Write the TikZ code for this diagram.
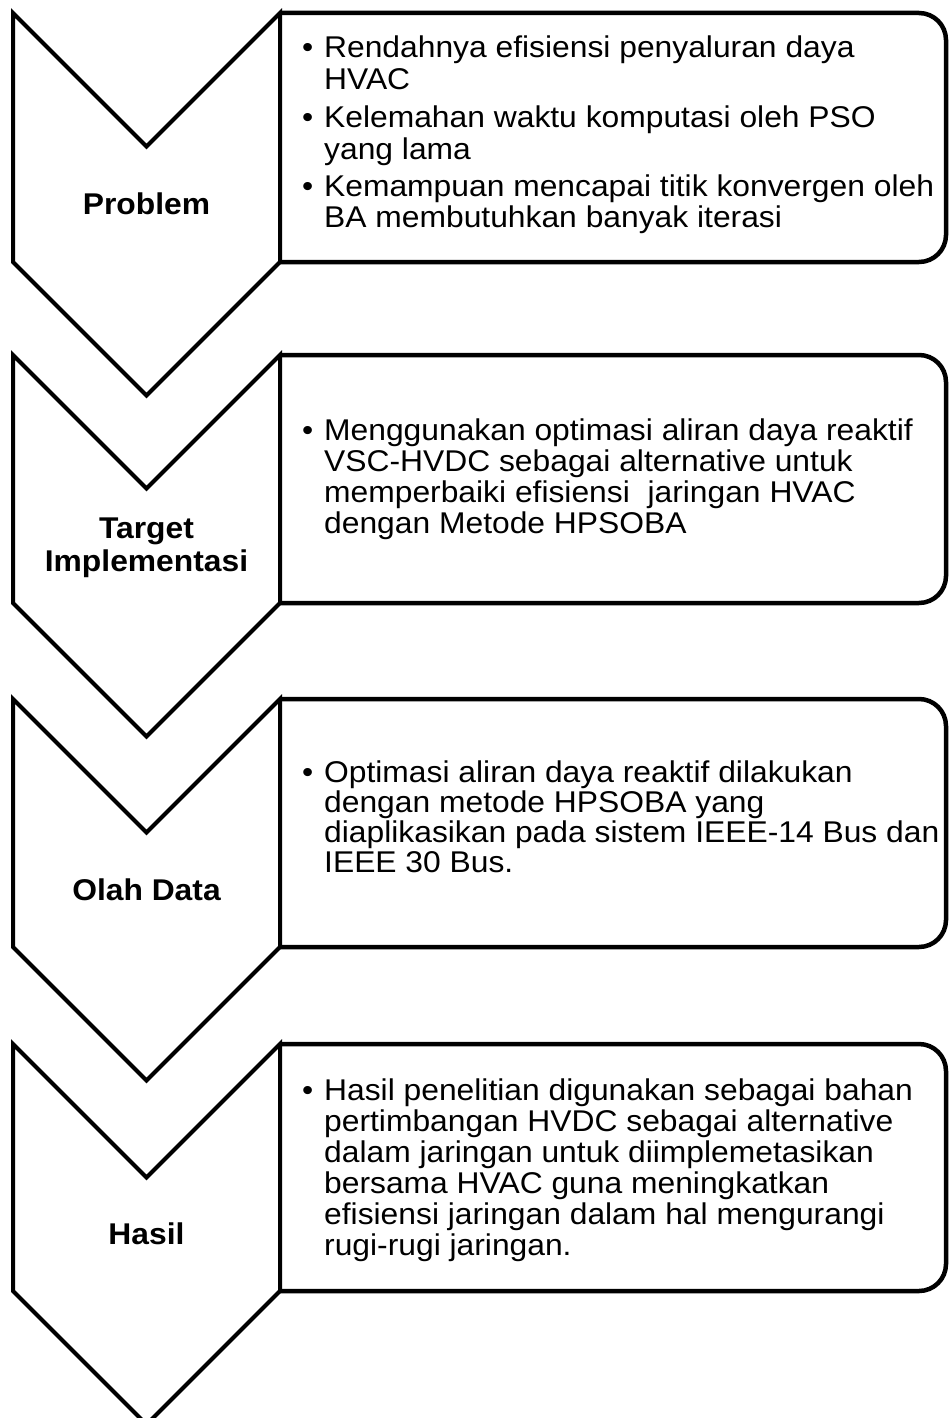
\documentclass[tikz,border=0pt]{standalone}
\usepackage{fontspec}
\setmainfont{Liberation Sans}[FakeStretch=1.06]
\usepackage{tikz}
\usepackage{xcolor}

\begin{document}
\begin{tikzpicture}[x=1pt,y=-1pt,
	chevron/.style={draw=black, line width=4pt, miter limit=10},
	panel/.style={draw=black, line width=4.5pt, rounded corners=27pt},
	stage/.style={font=\fontsize{30}{33}\selectfont\bfseries, align=center, inner sep=0pt},
	points/.style={font=\fontsize{30}{31}\selectfont, anchor=base west, inner sep=0pt}]

	\useasboundingbox (0,0) rectangle (949,1418);

	% Panels right
	\draw[panel] (280,13) -- (946,13) -- (946,262) -- (280,262);
	\draw[panel] (280,355) -- (946,355) -- (946,603) -- (280,603);
	\draw[panel] (280,699) -- (946,699) -- (946,947) -- (280,947);
	\draw[panel] (280,1044) -- (946,1044) -- (946,1291) -- (280,1291);

	% Chevrons left
	\draw[chevron] (13,13) -- (146.5,146.5) -- (280,13) -- (280,262) -- (146.5,395.5) -- (13,262) -- cycle;
	\draw[chevron] (13,355) -- (146.5,488.5) -- (280,355) -- (280,603) -- (146.5,736.5) -- (13,603) -- cycle;
	\draw[chevron] (13,699) -- (146.5,832.5) -- (280,699) -- (280,947) -- (146.5,1080.5) -- (13,947) -- cycle;
	\draw[chevron] (13,1044) -- (146.5,1177.5) -- (280,1044) -- (280,1291) -- (146.5,1424.5) -- (13,1291) -- cycle;

	% Stage names
	\node[stage] (problem) at (146.5,204) {Problem};
	\node[stage] (target)  at (146.5,548) {Target\\Implementasi};
	\node[stage] (olah)    at (146.5,890) {Olah Data};
	\node[stage] (hasil)   at (146.5,1234) {Hasil};

	% Bullet texts
	\node[points] (problem-text) at (302,58) {\begin{tabular}[t]{@{}p{22pt}@{}l@{}}
		\textbullet & Rendahnya efisiensi penyaluran daya\\[1pt]
		            & HVAC\\[6pt]
		\textbullet & Kelemahan waktu komputasi oleh PSO\\[1pt]
		            & yang lama\\[6pt]
		\textbullet & Kemampuan mencapai titik konvergen oleh\\[0pt]
		            & BA membutuhkan banyak iterasi
	\end{tabular}};
	\node[points] (target-text) at (302,440) {\begin{tabular}[t]{@{}p{22pt}@{}l@{}}
		\textbullet & Menggunakan optimasi aliran daya reaktif\\
		            & VSC-HVDC sebagai alternative untuk\\
		            & memperbaiki efisiensi \ jaringan HVAC\\
		            & dengan Metode HPSOBA
	\end{tabular}};
	\node[points] (olah-text) at (302,782) {\begin{tabular}[t]{@{}p{22pt}@{}l@{}}
		\textbullet & Optimasi aliran daya reaktif dilakukan\\[-1pt]
		            & dengan metode HPSOBA yang\\[-1pt]
		            & diaplikasikan pada sistem IEEE-14 Bus dan\\[-1pt]
		            & IEEE 30 Bus.
	\end{tabular}};
	\node[points] (hasil-text) at (302,1100) {\begin{tabular}[t]{@{}p{22pt}@{}l@{}}
		\textbullet & Hasil penelitian digunakan sebagai bahan\\
		            & pertimbangan HVDC sebagai alternative\\
		            & dalam jaringan untuk diimplemetasikan\\
		            & bersama HVAC guna meningkatkan\\
		            & efisiensi jaringan dalam hal mengurangi\\
		            & rugi-rugi jaringan.
	\end{tabular}};

\end{tikzpicture}
\end{document}
